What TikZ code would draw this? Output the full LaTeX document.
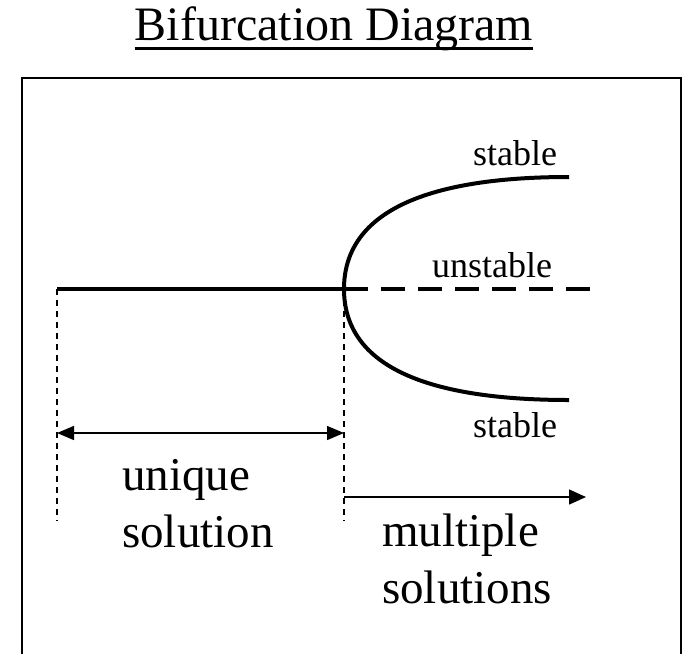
\documentclass[tikz,border=0pt]{standalone}
\usepackage{fontspec}
\setmainfont{Liberation Serif}
\usepackage{tikz}
\usetikzlibrary{arrows.meta,positioning,calc}

\begin{document}
\begin{tikzpicture}[x=1pt,y=-1pt,
    branch/.style={line width=4pt},
    guide/.style={line width=1.3pt,dash pattern=on 6pt off 5pt},
    span/.style={line width=1.5pt},
    biglabel/.style={inner sep=0pt,align=left,font=\fontsize{47}{57}\selectfont},
    smalllabel/.style={inner sep=0pt,font=\fontsize{36}{40}\selectfont}]
  \useasboundingbox (0,0) rectangle (683,654);
  % title
  \node[inner sep=0pt,anchor=base,font=\fontsize{48}{56}\selectfont] (title) at (334,40) {Bifurcation Diagram};
  \draw[line width=3pt] ([yshift=-8pt]title.base west) -- ([yshift=-8pt]title.base east);
  % frame, open at the bottom
  \draw[line width=1.5pt] (22,654) -- (22,78) -- (681,78) -- (681,654);
  % branches
  \coordinate (left) at (57,289);
  \coordinate (bif) at (344,289);
  \coordinate (dend) at (592,289);
  \coordinate (up) at (569,177);
  \coordinate (low) at (569,400);
  \draw[branch] (left) -- (bif);
  \draw[branch,dash pattern=on 24pt off 13pt] (bif) -- (dend);
  \draw[branch] (up) .. controls (420,177) and (344,215) .. (bif)
                     .. controls (344,363) and (420,400) .. (low);
  \node[smalllabel,anchor=base] (stabup) at (515,165) {stable};
  \node[smalllabel,anchor=base] (unstab) at (492,277) {unstable};
  \node[smalllabel,anchor=base] (stablow) at (515,437) {stable};
  % regions
  \coordinate (leftfoot) at (57,521);
  \coordinate (biffoot) at (344,521);
  \draw[guide] (left) -- (leftfoot);
  \draw[guide] (bif) -- (biffoot);
  \coordinate (ua) at (57,433);
  \coordinate (ub) at (344,433);
  \draw[span,{Triangle[length=17pt,width=14pt]}-{Triangle[length=17pt,width=14pt]}] (ua) -- (ub);
  \coordinate (ma) at (344,497);
  \coordinate (mb) at (586,497);
  \draw[span,-{Triangle[length=17pt,width=15pt]}] (ma) -- (mb);
  \node[biglabel,anchor=base west] (uniq) at (122,547) {unique\\solution};
  \node[biglabel,anchor=base west] (multi) at (382,603) {multiple\\solutions};
\end{tikzpicture}
\end{document}
